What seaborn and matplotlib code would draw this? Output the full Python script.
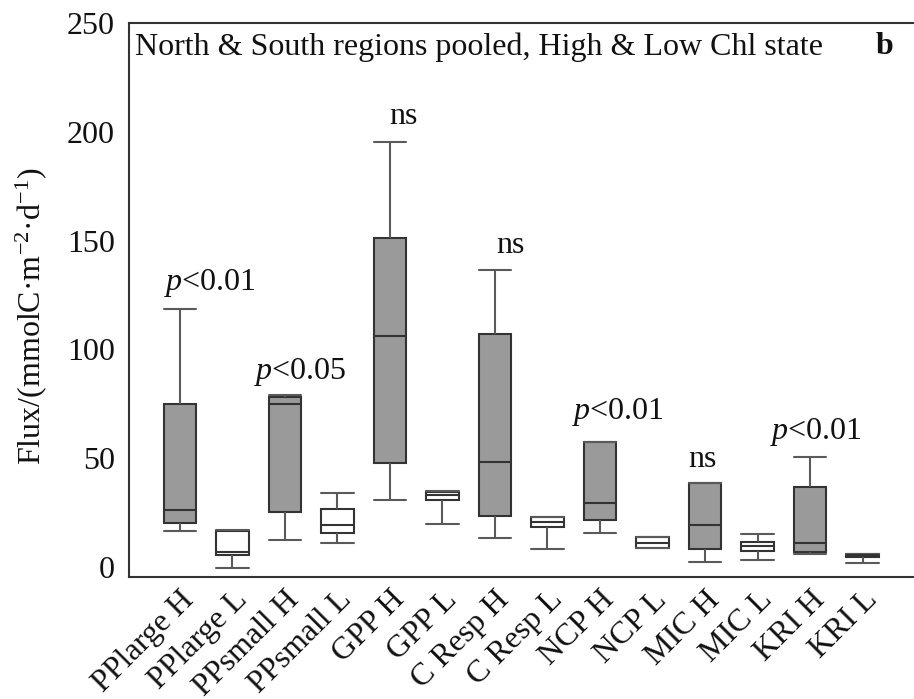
import numpy as np
import pandas as pd
import matplotlib
matplotlib.use("Agg")
import matplotlib.pyplot as plt
import seaborn as sns

# Flux components, high (H) and low (L) chlorophyll states
categories = ["PPlarge H", "PPlarge L", "PPsmall H", "PPsmall L", "GPP H", "GPP L",
              "C Resp H", "C Resp L", "NCP H", "NCP L", "MIC H", "MIC L", "KRI H", "KRI L"]
whisker_low = [16.6, -0.6, 12.4, 11.0, 30.8, 19.8, 13.3, 8.3, 15.6, 8.7, 2.3, 3.2, 6.0, 1.8]
quartile1 = [20.2, 5.5, 25.3, 15.6, 47.8, 30.8, 23.5, 18.4, 21.6, 8.7, 8.3, 7.4, 7.0, 4.6]
medians = [26.2, 7.0, 75.0, 19.3, 106.3, 33.0, 48.3, 20.7, 29.4, 11.0, 19.3, 9.7, 11.0, 5.5]
quartile3 = [75.0, 16.6, 78.0, 26.7, 151.3, 34.5, 107.0, 23.0, 57.5, 13.8, 38.6, 11.5, 36.8, 6.0]
whisker_high = [118.5, 16.8, 79.0, 34.0, 195.5, 35.0, 136.6, 23.0, 57.5, 13.8, 38.6, 15.2, 50.6, 6.0]

# Significance of the H vs L comparison for each flux
sig_labels = ["$p$<0.01", "$p$<0.05", "ns", "ns", "$p$<0.01", "ns", "$p$<0.01"]
sig_x = [0.57, 2.29, 4.25, 6.3, 8.34, 9.96, 12.12]
sig_y = [130.6, 89.7, 207.0, 147.7, 71.3, 49.2, 62.1]

# Long-form table: five-number summary per category
rows = []
for cat, lo, a, m, b, hi in zip(categories, whisker_low, quartile1, medians, quartile3, whisker_high):
    for v in (lo, a, m, b, hi):
        rows.append({"category": cat, "flux": v})
df = pd.DataFrame(rows)

sns.set_theme(style="white")
plt.rcParams["font.family"] = ["Liberation Serif", "DejaVu Serif"]
plt.rcParams["mathtext.fontset"] = "custom"
plt.rcParams["mathtext.rm"] = "Liberation Serif"
plt.rcParams["mathtext.it"] = "Liberation Serif:italic"
plt.rcParams["mathtext.bf"] = "Liberation Serif:bold"

FS = 23
edge = "#333333"
whisk = "#5a5a5a"
palette = {c: ("#9a9a9a" if c.endswith("H") else "#ffffff") for c in categories}

fig = plt.figure(figsize=(9.14, 6.99), dpi=100)
ax = fig.add_axes([0.1411, 0.1745, 0.8589, 0.7926])

box_w = 0.62
sns.boxplot(data=df, x="category", y="flux", hue="category", order=categories,
            hue_order=categories, palette=palette, legend=False, dodge=False,
            whis=(0, 100), width=box_w, linecolor=edge, linewidth=1.5,
            showfliers=False, capwidths=box_w,
            whiskerprops=dict(color=whisk, linewidth=1.5),
            capprops=dict(color=whisk, linewidth=1.5),
            medianprops=dict(color=edge, linewidth=1.5),
            ax=ax)

for lab, x, y in zip(sig_labels, sig_x, sig_y):
    ax.text(x, y, lab, ha="center", va="center", fontsize=FS, color="#111111")

ax.text(0.008, 0.957, "North & South regions pooled, High & Low Chl state",
        transform=ax.transAxes, ha="left", va="center", fontsize=FS, color="#111111")
ax.text(0.963, 0.957, "b", transform=ax.transAxes, ha="center", va="center",
        fontsize=FS, fontweight="bold", color="#111111")

ax.set_xlim(-0.97, 13.98)
ax.set_ylim(-4.6, 250)
ax.set_yticks([0, 50, 100, 150, 200, 250])
ax.set_xlabel("")
ax.set_ylabel("Flux/(mmolC·m$^{-2}$·d$^{-1}$)", fontsize=FS, color="#111111", labelpad=13)
ax.yaxis.label.set_y(0.47)

ax.tick_params(axis="both", direction="in", length=9, width=1.3, color=edge,
               labelsize=FS, labelcolor="#111111")
ax.tick_params(axis="x", pad=6)
ax.tick_params(axis="y", pad=10)
plt.setp(ax.get_xticklabels(), rotation=45, ha="right", rotation_mode="anchor")

for side in ["left", "bottom", "top"]:
    ax.spines[side].set_visible(True)
    ax.spines[side].set_color(edge)
    ax.spines[side].set_linewidth(1.5)
ax.spines["right"].set_visible(False)

fig.savefig("out.png", dpi=100)
